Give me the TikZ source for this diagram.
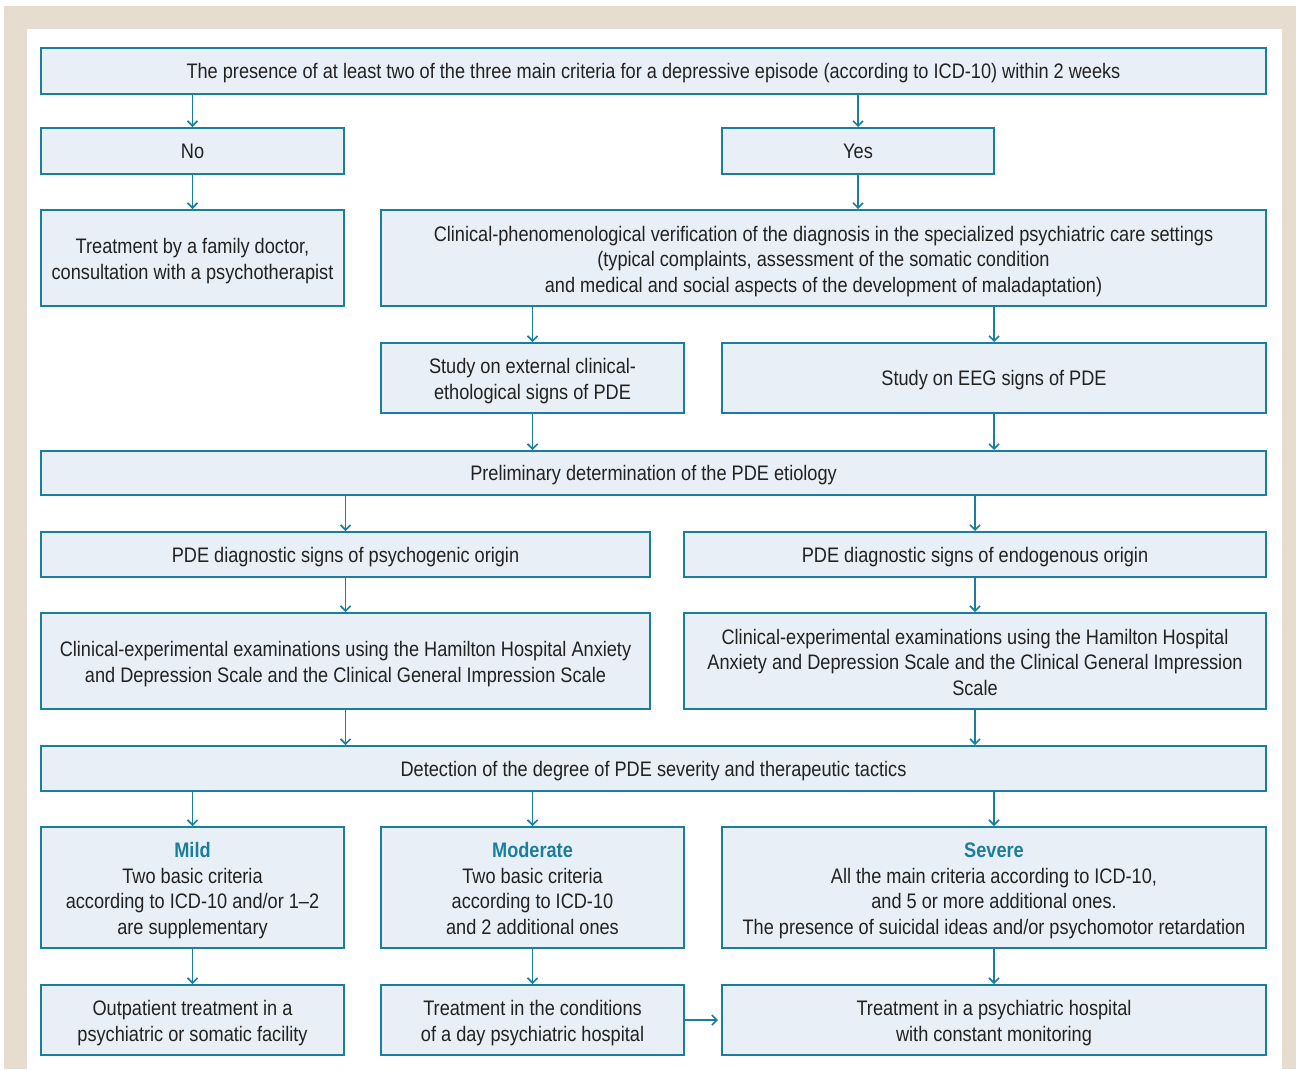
\documentclass[tikz,border=0pt]{standalone}
\usepackage{fontspec}
\setmainfont{Liberation Sans}[FakeStretch=0.865]
\usetikzlibrary{arrows.meta}
\definecolor{frame}{HTML}{E6DCD0}
\definecolor{boxfill}{HTML}{E9EFF6}
\definecolor{boxline}{HTML}{1B7E9C}
\definecolor{txt}{HTML}{222222}
\newcommand\firstln{\rule{0pt}{22pt}}
\tikzset{
  box/.style={draw=boxline, line width=2pt, fill=boxfill, inner sep=0pt, align=center,
    text=txt, font=\fontsize{21}{25.5}\selectfont,
    execute at begin node={\rule{0pt}{20pt}},
    execute at end node={\rule[-5pt]{0pt}{5pt}}},
  arr/.style={draw=boxline, line width=1.6pt, -{Straight Barb[length=5pt,width=10pt,line width=1.6pt]}}
}
\begin{document}
\begin{tikzpicture}[x=1pt,y=-1pt]
\useasboundingbox (0,0) rectangle (1299,1069);
\fill[frame] (4,6) rectangle (1296,1069);
\fill[white] (27,29) rectangle (1282,1069);
% boxes
\node[box, minimum width=1225pt, minimum height=46pt] (top) at (653.5,71) {The presence of at least two of the three main criteria for a depressive episode (according to ICD-10) within 2 weeks};
\node[box, minimum width=303pt, minimum height=46pt] (no) at (192.5,151) {No};
\node[box, minimum width=272pt, minimum height=46pt] (yes) at (858,151) {Yes};
\node[box, minimum width=303pt, minimum height=96pt] (fam) at (192.5,258) {\firstln Treatment by a family doctor,\\consultation with a psychotherapist};
\node[box, minimum width=885pt, minimum height=96pt] (clin) at (823.5,258) {\firstln Clinical-phenomenological verification of the diagnosis in the specialized psychiatric care settings\\(typical complaints, assessment of the somatic condition\\and medical and social aspects of the development of maladaptation)};
\node[box, minimum width=303pt, minimum height=70pt] (ext) at (532.5,378) {\firstln Study on external clinical-\\ethological signs of PDE};
\node[box, minimum width=544pt, minimum height=70pt] (eeg) at (994,378) {Study on EEG signs of PDE};
\node[box, minimum width=1225pt, minimum height=44pt] (prel) at (653.5,473) {Preliminary determination of the PDE etiology};
\node[box, minimum width=609pt, minimum height=45pt] (psy) at (345.5,554.5) {PDE diagnostic signs of psychogenic origin};
\node[box, minimum width=582pt, minimum height=45pt] (endo) at (975,554.5) {PDE diagnostic signs of endogenous origin};
\node[box, minimum width=609pt, minimum height=96pt] (cla) at (345.5,661) {\firstln Clinical-experimental examinations using the Hamilton Hospital Anxiety\\and Depression Scale and the Clinical General Impression Scale};
\node[box, minimum width=582pt, minimum height=96pt] (clb) at (975,661) {\firstln Clinical-experimental examinations using the Hamilton Hospital\\Anxiety and Depression Scale and the Clinical General Impression\\Scale};
\node[box, minimum width=1225pt, minimum height=45pt] (det) at (653.5,768.5) {Detection of the degree of PDE severity and therapeutic tactics};
\node[box, minimum width=303pt, minimum height=121pt] (mild) at (192.5,887.5) {\firstln{\color{boxline}\bfseries Mild}\\Two basic criteria\\according to ICD-10 and/or 1--2\\are supplementary};
\node[box, minimum width=303pt, minimum height=121pt] (mod) at (532.5,887.5) {\firstln{\color{boxline}\bfseries Moderate}\\Two basic criteria\\according to ICD-10\\and 2 additional ones};
\node[box, minimum width=544pt, minimum height=121pt] (sev) at (994,887.5) {\firstln{\color{boxline}\bfseries Severe}\\All the main criteria according to ICD-10,\\and 5 or more additional ones.\\The presence of suicidal ideas and/or psychomotor retardation};
\node[box, minimum width=303pt, minimum height=70pt] (out) at (192.5,1020) {\firstln Outpatient treatment in a\\psychiatric or somatic facility};
\node[box, minimum width=303pt, minimum height=70pt] (day) at (532.5,1020) {\firstln Treatment in the conditions\\of a day psychiatric hospital};
\node[box, minimum width=544pt, minimum height=70pt] (hosp) at (994,1020) {\firstln Treatment in a psychiatric hospital\\with constant monitoring};
% arrows
\draw[arr] (no.north |- top.south) -- (no.north);
\draw[arr] (yes.north |- top.south) -- (yes.north);
\draw[arr] (no.south) -- (fam.north);
\draw[arr] (yes.south) -- (yes.south |- clin.north);
\draw[arr] (ext.north |- clin.south) -- (ext.north);
\draw[arr] (eeg.north |- clin.south) -- (eeg.north);
\draw[arr] (ext.south) -- (ext.south |- prel.north);
\draw[arr] (eeg.south) -- (eeg.south |- prel.north);
\draw[arr] (psy.north |- prel.south) -- (psy.north);
\draw[arr] (endo.north |- prel.south) -- (endo.north);
\draw[arr] (psy.south) -- (cla.north);
\draw[arr] (endo.south) -- (clb.north);
\draw[arr] (cla.south) -- (cla.south |- det.north);
\draw[arr] (clb.south) -- (clb.south |- det.north);
\draw[arr] (mild.north |- det.south) -- (mild.north);
\draw[arr] (mod.north |- det.south) -- (mod.north);
\draw[arr] (sev.north |- det.south) -- (sev.north);
\draw[arr] (mild.south) -- (out.north);
\draw[arr] (mod.south) -- (day.north);
\draw[arr] (sev.south) -- (hosp.north);
\draw[arr, shorten >=3pt] (day.east) -- (hosp.west);
\end{tikzpicture}
\end{document}
